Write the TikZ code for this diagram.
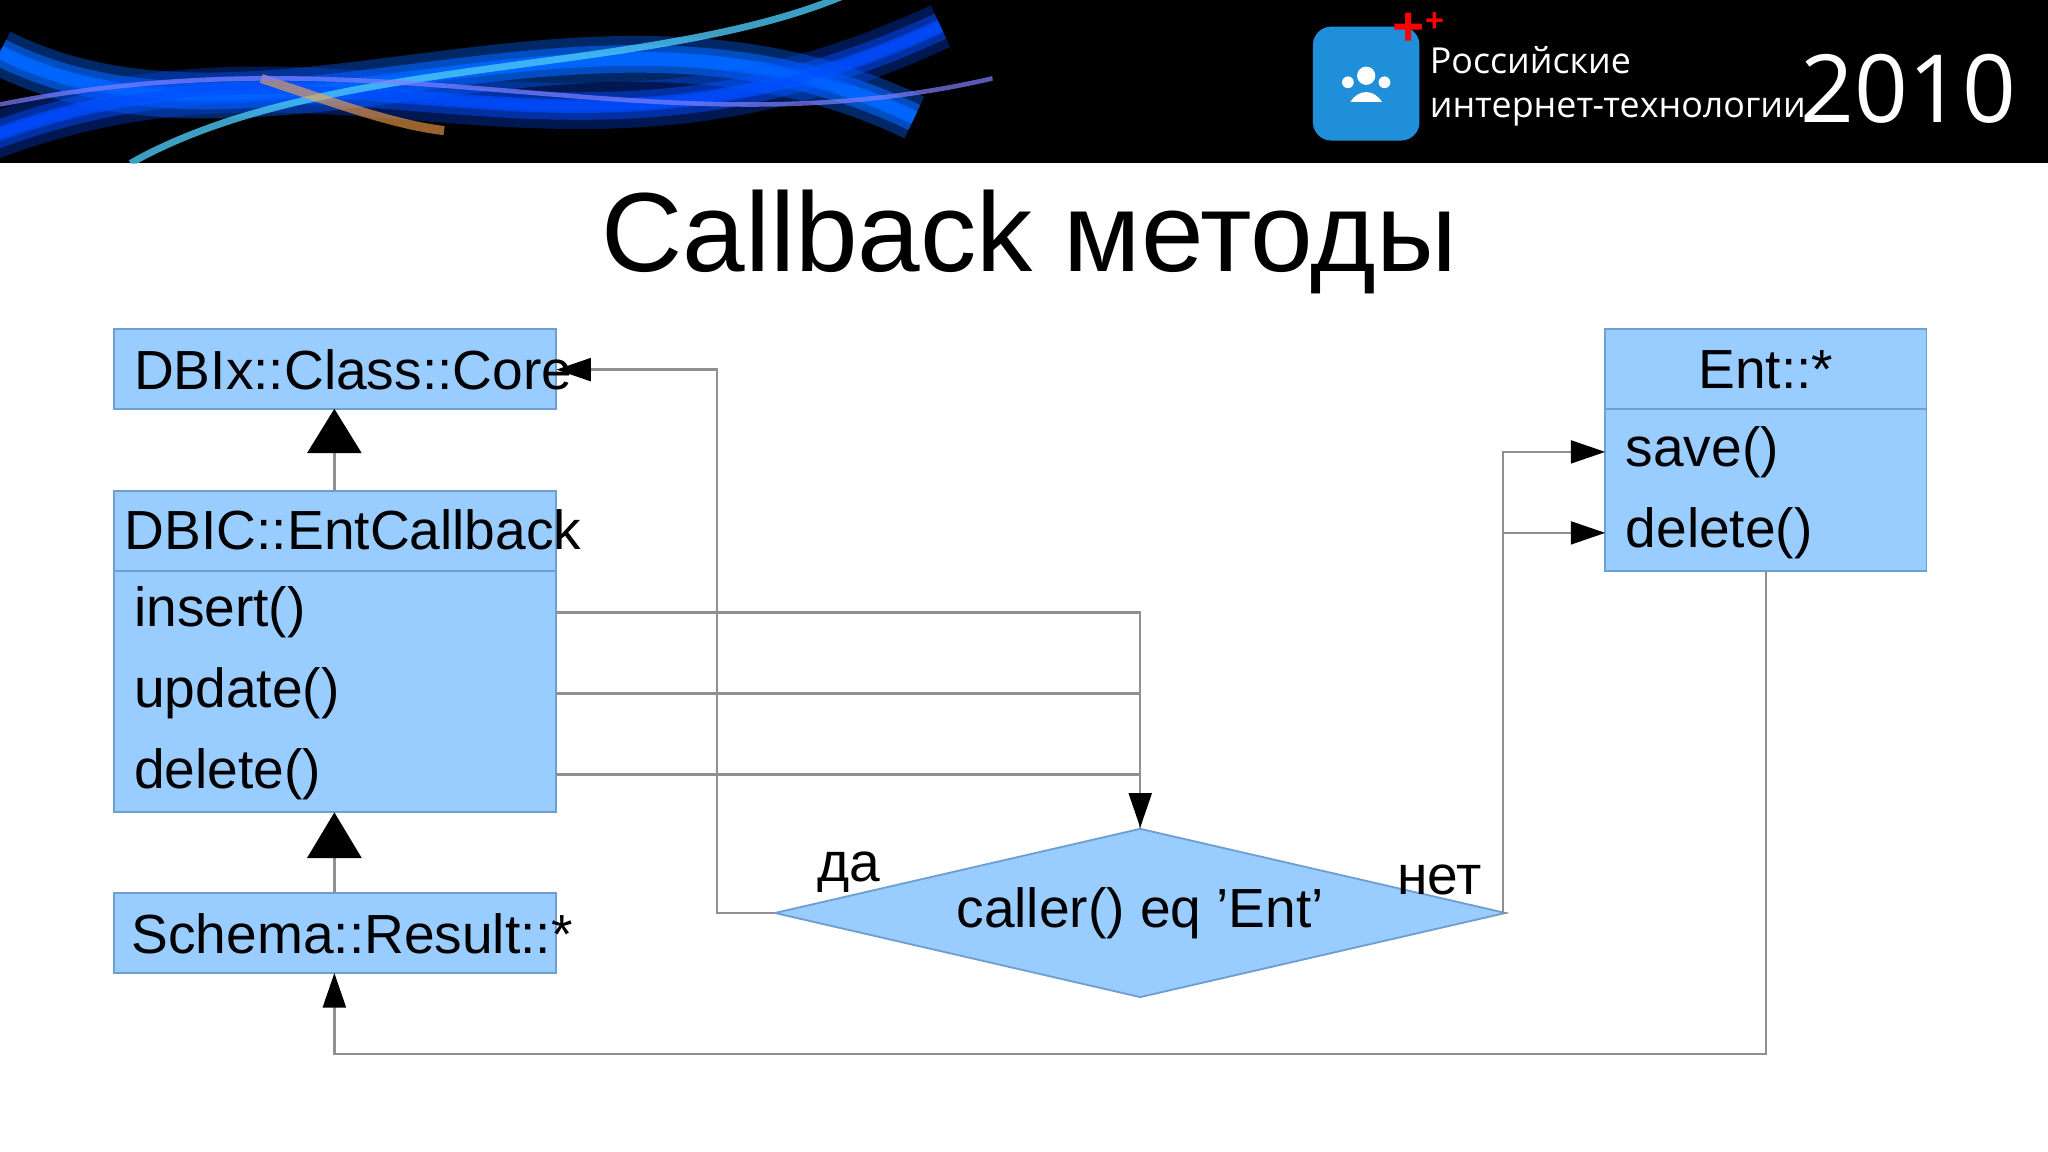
\documentclass[tikz,border=0pt]{standalone}
\usepackage{fontspec}
\setmainfont{Liberation Sans}
\newfontfamily\hdrfont{Open Sans}
\usetikzlibrary{arrows.meta,shapes.geometric}
\definecolor{boxfill}{HTML}{99CCFF}
\definecolor{boxline}{HTML}{6F9FD0}
\definecolor{conn}{HTML}{909090}
\definecolor{logoblue}{HTML}{1E8FD8}
\begin{document}
\begin{tikzpicture}[x=0.01cm,y=-0.01cm,
  box/.style={draw=boxline,fill=boxfill,minimum width=339\pgflinewidth,inner sep=0pt},
  txt/.style={font=\fontsize{12}{12}\selectfont,anchor=west,inner sep=0pt},
  wire/.style={draw=conn,line width=0.5pt},
  arr/.style={wire,-{Triangle[length=7.5pt,width=5pt,fill=black,color=black]}},
  inh/.style={fill=black}]
\useasboundingbox (0,0) rectangle (1568,882);
\fill[white] (0,0) rectangle (1568,882);
% header
\fill[black] (0,0) rectangle (1568,125);
\begin{scope}
\clip (0,0) rectangle (760,125);
\foreach \o/\w in {0.9/3,0.6/6,0.4/10,0.7/2}{
  \draw[blue!60!cyan,opacity=\o,line width=\w pt] (0,40) .. controls (200,140) and (450,-30) .. (700,90);
  \draw[blue!70!cyan,opacity=\o*0.8,line width=\w pt] (-20,110) .. controls (250,0) and (420,160) .. (720,20);
}
\draw[cyan!70,opacity=0.8,line width=1.5pt] (100,125) .. controls (250,40) and (500,60) .. (650,-5);
\draw[orange!70,opacity=0.6,line width=2pt] (200,60) .. controls (260,80) and (300,95) .. (340,100);
\draw[blue!50!white,opacity=0.7,line width=1pt] (0,80) .. controls (300,20) and (500,120) .. (760,60);
\end{scope}
\node[fill=logoblue,rounded corners=4pt,minimum width=58\pgflinewidth,minimum height=62\pgflinewidth,inner sep=0pt] (logo) at (1046,64) {};
\fill[white] (1046,58) circle (7);
\fill[white] (1032,63) circle (4.5);
\fill[white] (1060,63) circle (4.5);
\fill[white] (1034,78) .. controls (1040,68) and (1052,68) .. (1058,78) -- cycle;
\node[text=red,font=\bfseries\fontsize{12}{12}\selectfont,inner sep=0pt] (cr) at (1086,22) {+\raisebox{3pt}{\scriptsize+}};
\node[txt,text=white,font=\hdrfont\fontsize{7.8}{9.5}\selectfont,align=left] (rit) at (1094,66) {Российские\\интернет-технологии};
\node[txt,text=white,font=\hdrfont\fontsize{20.5}{20}\selectfont] (yr) at (1378,68) {2010};
% title
\node[font=\fontsize{24.5}{25}\selectfont,inner sep=0pt] (title) at (788,185) {Callback методы};
% boxes
\draw[boxline,fill=boxfill] (87,252) rectangle (426,313);
\node[txt] (core) at (102,283) {DBIx::Class::Core};
\draw[boxline,fill=boxfill] (87,376) rectangle (426,622);
\draw[boxline] (87,437) -- (426,437);
\node[txt] (ecb) at (95,406) {DBIC::EntCallback};
\node[txt] (ins) at (102,469) {insert()};
\node[txt] (upd) at (102,531) {update()};
\node[txt] (del) at (102,593) {delete()};
\draw[boxline,fill=boxfill] (87,684) rectangle (426,745);
\node[txt] (res) at (100,715) {Schema::Result::*};
\draw[boxline,fill=boxfill] (1229,252) rectangle (1475,437);
\draw[boxline] (1229,313) -- (1475,313);
\node[font=\fontsize{12}{12}\selectfont,inner sep=0pt] (ent) at (1352,283) {Ent::*};
\node[txt] (save) at (1244,346) {save()};
\node[txt] (edel) at (1244,408) {delete()};
\node[diamond,draw=boxline,fill=boxfill,aspect=4.35,minimum width=398\pgflinewidth,minimum height=92\pgflinewidth,inner sep=0pt] (dec) at (873,699) {};
\node[font=\fontsize{12}{12}\selectfont,inner sep=0pt] (dect) at (873,699) {caller() eq 'Ent'};
\node[font=\fontsize{12}{12}\selectfont,inner sep=0pt] (da) at (650,668) {да};
\node[font=\fontsize{12}{12}\selectfont,inner sep=0pt] (net) at (1102,674) {нет};
% coordinates
\coordinate (cR) at (426,283);
\coordinate (iR) at (426,469);
\coordinate (uR) at (426,531);
\coordinate (dR) at (426,593);
\coordinate (sL) at (1229,346);
\coordinate (eL) at (1229,408);
% inheritance
\draw[wire] (256,347) -- (256,376);
\fill[inh] (256,313) -- (277,347) -- (235,347) -- cycle;
\draw[wire] (256,657) -- (256,684);
\fill[inh] (256,622) -- (277,657) -- (235,657) -- cycle;
% connectors
\draw[wire] (iR) -| (dec.north);
\draw[wire] (uR) -- (873,531);
\draw[arr] (dR) -| (dec.north);
\draw[arr] (dec.west) -- (549,699) |- (cR);
\draw[arr] (dec.east) -- (1151,699) |- (sL);
\draw[arr] (1151,408) -- (eL);
\draw[arr] (1352,437) -- (1352,807) -| (256,745);
\end{tikzpicture}
\end{document}
